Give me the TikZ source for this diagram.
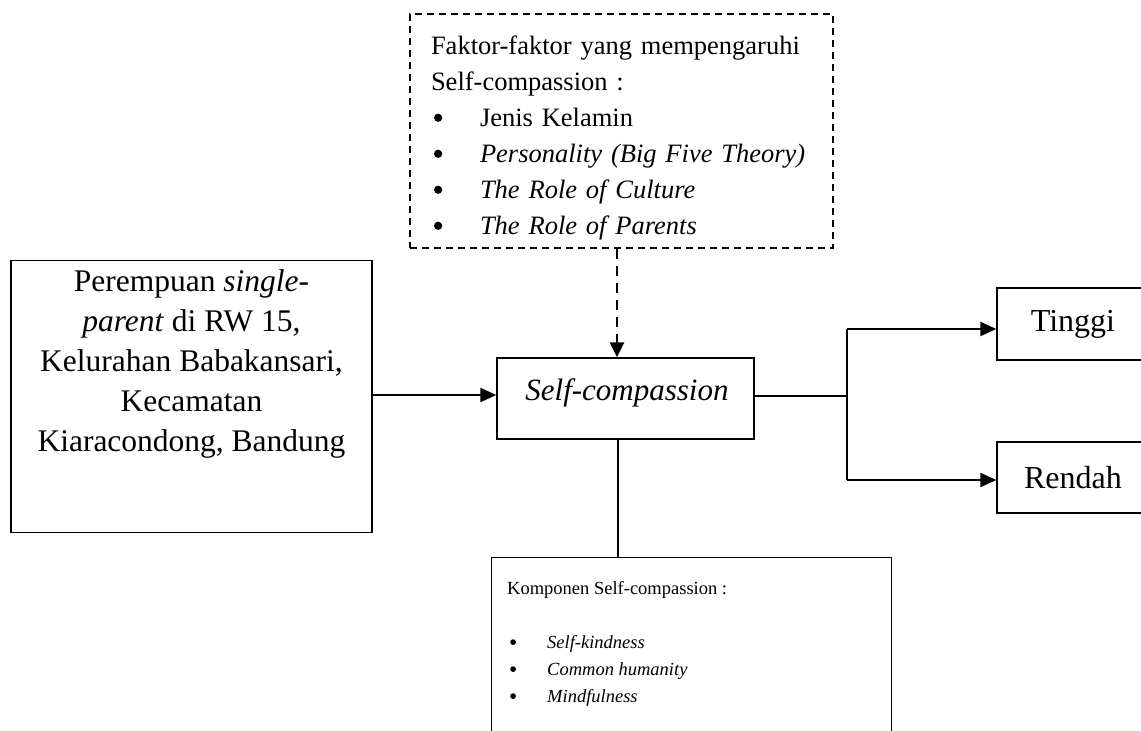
\documentclass[tikz,border=0pt]{standalone}
\usepackage{fontspec}
\setmainfont{Liberation Serif}
\usetikzlibrary{arrows.meta}
\newcommand{\bigbul}{\tikz[baseline=0pt]{\fill (0,0.33em) circle (0.155em);}}
\begin{document}
\begin{tikzpicture}[x=1pt,y=-1pt,
  box/.style={draw, line width=1.3pt, inner sep=0pt},
  conn/.style={line width=1.6pt},
  arr/.style={line width=2pt, -{Triangle[length=16pt,width=14pt]}},
  dasharr/.style={line width=2.8pt, dash pattern=on 10pt off 7pt, -{Triangle[length=15pt,width=14pt]}},
  dashbox/.style={draw, line width=1.4pt, dash pattern=on 7pt off 5pt, inner sep=0pt}
]
\useasboundingbox (0,0) rectangle (1141,731);
\clip (0,0) rectangle (1141,731);
\fill[white] (0,0) rectangle (1141,731);

% top dashed box
\node[dashbox, minimum width=423pt, minimum height=234pt] (faktor) at (621.5,131) {};
\node[inner sep=0pt, text width=381pt, align=left, font=\fontsize{26.5}{36}\selectfont] (faktortext) at (621.5,138)
  {Faktor-faktor yang mempengaruhi\\
   Self-compassion :\\
   \hspace*{3pt}\makebox[46pt][l]{\bigbul}Jenis Kelamin\\
   \hspace*{3pt}\makebox[46pt][l]{\bigbul}\textit{Personality (Big Five Theory)}\\
   \hspace*{3pt}\makebox[46pt][l]{\bigbul}\textit{The Role of Culture}\\
   \hspace*{3pt}\makebox[46pt][l]{\bigbul}\textit{The Role of Parents}};

% left box
\node[box, minimum width=361pt, minimum height=272pt] (pop) at (191.5,396.5) {};
\node[inner sep=0pt, align=center, font=\fontsize{31.5}{40}\selectfont] (poptext) at (191.5,364)
  {Perempuan \textit{single-}\\
   \textit{parent} di RW 15,\\
   Kelurahan Babakansari,\\
   Kecamatan\\
   Kiaracondong, Bandung};

% central box
\node[box, minimum width=257pt, minimum height=81pt] (sc) at (625.5,398.5) {};
\node[inner sep=0pt, font=\fontsize{31}{36}\selectfont\itshape] (sctext) at (627,393) {Self-compassion};

% right boxes
\node[box, minimum width=152pt, minimum height=72pt, font=\fontsize{32}{36}\selectfont] (tinggi) at (1073,324) {Tinggi};
\node[box, minimum width=152pt, minimum height=71pt, font=\fontsize{32}{36}\selectfont] (rendah) at (1073,477.5) {Rendah};

% bottom box
\node[box, minimum width=400pt, minimum height=260pt, anchor=north west] (komp) at (491,557) {};
\node[anchor=north west, inner sep=0pt, align=left, font=\fontsize{18.5}{27}\selectfont] (komptext) at (507,581)
  {Komponen Self-compassion :\\[27pt]
   \hspace*{3pt}\makebox[37pt][l]{\bigbul}\textit{Self-kindness}\\
   \hspace*{3pt}\makebox[37pt][l]{\bigbul}\textit{Common humanity}\\
   \hspace*{3pt}\makebox[37pt][l]{\bigbul}\textit{Mindfulness}};

% connectors
\coordinate (ya) at (0,395);
\coordinate (xd) at (617,0);
\coordinate (xv) at (618,0);
\coordinate (j) at (847,396);
\coordinate (jt) at (847,329);
\coordinate (jb) at (847,480);

\draw[arr] (pop.east |- ya) -- (sc.west |- ya);
\draw[dasharr] (faktor.south -| xd) -- (sc.north -| xd);
\draw[conn] (sc.south -| xv) -- (komp.north -| xv);
\draw[conn] (sc.east |- j) -- (j);
\draw[conn] (jt) -- (jb);
\draw[arr] (jt) -- (tinggi.west |- jt);
\draw[arr] (jb) -- (rendah.west |- jb);
\end{tikzpicture}
\end{document}
